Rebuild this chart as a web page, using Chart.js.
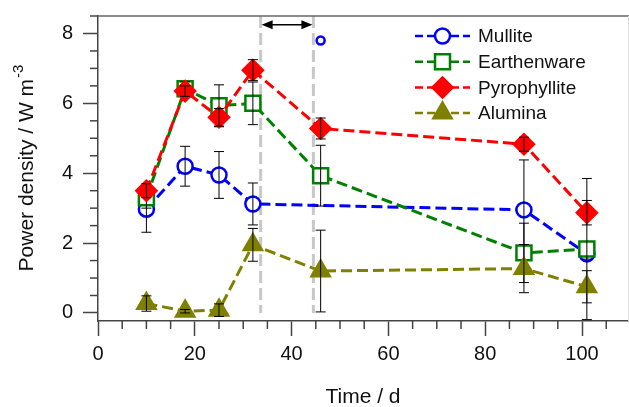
<!DOCTYPE html>
<html>
<head>
<meta charset="utf-8">
<script src="https://cdn.jsdelivr.net/npm/chart.js@4.4.1/dist/chart.umd.min.js"></script>
<style>
    html, body { margin: 0; padding: 0; background: #fff; }
</style>
</head>
<body>
<canvas id="powerChart" width="629" height="407"></canvas>
<script>
// Data
const days = [10, 18, 25, 32, 46, 88, 101];
const mulliteDays = [10, 18, 25, 32, 88, 101];

const mullite = [2.97, 4.2, 3.95, 3.12, 2.95, 1.69];
const mulliteErr = [0.66, 0.57, 0.67, 0.6, 1.43, 0.15];
const earthenware = [3.3, 6.42, 5.93, 6.0, 3.93, 1.72, 1.83];
const earthenwareErr = [0.3, 0.2, 0.6, 0.61, 0.87, 0.85, 2.02];
const pyrophyllite = [3.5, 6.35, 5.6, 6.95, 5.28, 4.83, 2.87];
const pyrophylliteErr = [0.2, 0.15, 0.25, 0.3, 0.3, 0.2, 0.35];
const alumina = [0.27, 0.05, 0.08, 1.95, 1.2, 1.27, 0.75];
const aluminaErr = [0.22, 0.05, 0.18, 0.47, 1.17, 0.69, 0.46];

// lone Mullite point above the others
const outlierDays = [46];
const outlierValues = [7.8];

// dashed markers and arrow between them
const markerDays = [33.6, 44.5];
const arrowLevel = 8.25;

const xTicks = [0, 5, 10, 15, 20, 25, 30, 35, 40, 45, 50, 55, 60, 65, 70, 75, 80, 85, 90, 95, 100, 105];
const yTicks = [0, 0.5, 1, 1.5, 2, 2.5, 3, 3.5, 4, 4.5, 5, 5.5, 6, 6.5, 7, 7.5, 8, 8.5];

const FONT = "'Liberation Sans', Arial, sans-serif";
const AXIS_COLOR = '#444';

function toPoints(xs, ys) {
    return xs.map((x, i) => ({ x: x, y: ys[i] }));
}

function series(label, xs, ys, errs, color, style, radius, fill, order) {
    return {
        label: label,
        data: toPoints(xs, ys),
        errors: errs,
        showLine: true,
        borderColor: color,
        borderWidth: 3,
        borderDash: [11, 5],
        pointStyle: style,
        pointRadius: radius,
        pointHoverRadius: radius,
        pointBorderColor: color,
        pointBackgroundColor: fill ? color : '#fff',
        pointBorderWidth: 2.5,
        order: order
    };
}

const datasets = [
    series('Mullite', mulliteDays, mullite, mulliteErr, '#0000ff', 'circle', 7.5, false, 5),
    series('Earthenware', days, earthenware, earthenwareErr, '#008000', 'rect', 10.6, false, 4),
    series('Pyrophyllite', days, pyrophyllite, pyrophylliteErr, '#ff0000', 'rectRot', 10, true, 3),
    series('Alumina', days, alumina, aluminaErr, '#808000', 'triangle', 10.5, true, 2),
    {
        label: 'outlier',
        data: toPoints(outlierDays, outlierValues),
        showLine: false,
        pointStyle: 'circle',
        pointRadius: 4,
        pointBorderColor: '#0000ff',
        pointBackgroundColor: '#fff',
        pointBorderWidth: 2.5,
        order: 1
    }
];

// Error bars, drawn right after each series
const errorBars = {
    id: 'errorBars',
    afterDatasetDraw(chart, args) {
        const ds = chart.data.datasets[args.index];
        if (!ds.errors) return;
        const y = chart.scales.y;
        const ctx = chart.ctx;
        ctx.save();
        ctx.strokeStyle = '#000';
        ctx.lineWidth = 1;
        args.meta.data.forEach((pt, i) => {
            const v = ds.data[i].y;
            const e = ds.errors[i];
            const top = y.getPixelForValue(v + e);
            const bot = y.getPixelForValue(v - e);
            ctx.beginPath();
            ctx.moveTo(pt.x, top);
            ctx.lineTo(pt.x, bot);
            ctx.moveTo(pt.x - 5, top);
            ctx.lineTo(pt.x + 5, top);
            ctx.moveTo(pt.x - 5, bot);
            ctx.lineTo(pt.x + 5, bot);
            ctx.stroke();
        });
        ctx.restore();
    }
};

// Gray dashed verticals, arrow, frame, minor ticks, legend, y title
const decorations = {
    id: 'decorations',
    beforeDatasetsDraw(chart) {
        const ctx = chart.ctx;
        const area = chart.chartArea;
        const x = chart.scales.x;
        const y = chart.scales.y;
        ctx.save();
        ctx.strokeStyle = '#c8c8c8';
        ctx.lineWidth = 3;
        ctx.setLineDash([12, 5]);
        markerDays.forEach(d => {
            const px = x.getPixelForValue(d);
            ctx.beginPath();
            ctx.moveTo(px, area.top);
            ctx.lineTo(px, y.getPixelForValue(0));
            ctx.stroke();
        });
        ctx.setLineDash([]);

        // double-headed arrow
        const x1 = x.getPixelForValue(markerDays[0]) + 1;
        const x2 = x.getPixelForValue(markerDays[1]) - 1;
        const ay = y.getPixelForValue(arrowLevel);
        ctx.strokeStyle = '#000';
        ctx.fillStyle = '#000';
        ctx.lineWidth = 1.5;
        ctx.beginPath();
        ctx.moveTo(x1 + 6, ay);
        ctx.lineTo(x2 - 6, ay);
        ctx.stroke();
        ctx.beginPath();
        ctx.moveTo(x1, ay);
        ctx.lineTo(x1 + 11, ay - 4.5);
        ctx.lineTo(x1 + 11, ay + 4.5);
        ctx.closePath();
        ctx.moveTo(x2, ay);
        ctx.lineTo(x2 - 11, ay - 4.5);
        ctx.lineTo(x2 - 11, ay + 4.5);
        ctx.closePath();
        ctx.fill();
        ctx.restore();
    },
    afterDraw(chart) {
        const ctx = chart.ctx;
        const area = chart.chartArea;
        ctx.save();

        // frame top and right
        ctx.strokeStyle = '#666';
        ctx.lineWidth = 1.5;
        ctx.beginPath();
        ctx.moveTo(area.left, area.top);
        ctx.lineTo(area.right + 1, area.top);
        ctx.stroke();
        ctx.strokeStyle = '#ddd';
        ctx.lineWidth = 1;
        ctx.beginPath();
        ctx.moveTo(area.right + 0.5, area.top);
        ctx.lineTo(area.right + 0.5, area.bottom);
        ctx.stroke();

        // minor ticks
        ctx.strokeStyle = AXIS_COLOR;
        ctx.lineWidth = 1.5;
        chart.scales.x.ticks.forEach(t => {
            if (t.value % 20 === 0) return;
            const px = chart.scales.x.getPixelForValue(t.value);
            ctx.beginPath();
            ctx.moveTo(px, area.bottom);
            ctx.lineTo(px, area.bottom + 8);
            ctx.stroke();
        });
        chart.scales.y.ticks.forEach(t => {
            if (t.value % 2 === 0) return;
            const py = chart.scales.y.getPixelForValue(t.value);
            ctx.beginPath();
            ctx.moveTo(area.left, py);
            ctx.lineTo(area.left - 8, py);
            ctx.stroke();
        });

        // legend
        const lx = 415, ly = 36, rowH = 25.7;
        chart.data.datasets.slice(0, 4).forEach((ds, i) => {
            const cy = ly + i * rowH;
            ctx.strokeStyle = ds.borderColor;
            ctx.lineWidth = 2.5;
            ctx.setLineDash([8, 4]);
            ctx.beginPath();
            ctx.moveTo(lx, cy);
            ctx.lineTo(lx + 55, cy);
            ctx.stroke();
            ctx.setLineDash([]);
            ctx.fillStyle = ds.pointBackgroundColor;
            ctx.strokeStyle = ds.pointBorderColor;
            ctx.lineWidth = ds.pointBorderWidth;
            Chart.helpers.drawPoint(ctx, {
                pointStyle: ds.pointStyle,
                radius: ds.pointRadius,
                rotation: 0,
                borderWidth: ds.pointBorderWidth
            }, lx + 27.5, cy);
            ctx.fillStyle = '#111';
            ctx.font = '19px ' + FONT;
            ctx.textBaseline = 'middle';
            ctx.textAlign = 'left';
            ctx.fillText(ds.label, lx + 63, cy + 1);
        });

        // y axis title with superscript
        const main = 'Power density / W m';
        const sup = '-3';
        ctx.fillStyle = '#111';
        ctx.font = '21px ' + FONT;
        const w1 = ctx.measureText(main).width;
        ctx.font = '15px ' + FONT;
        const w2 = ctx.measureText(sup).width;
        ctx.translate(27, (area.top + area.bottom) / 2);
        ctx.rotate(-Math.PI / 2);
        ctx.textBaseline = 'middle';
        ctx.textAlign = 'left';
        const start = -(w1 + w2) / 2;
        ctx.font = '21px ' + FONT;
        ctx.fillText(main, start, 0);
        ctx.font = '15px ' + FONT;
        ctx.fillText(sup, start + w1 + 1, -8);
        ctx.restore();
    }
};

function noScalePadding(s) {
    s.paddingTop = 0;
    s.paddingBottom = 0;
    s.paddingLeft = 0;
    s.paddingRight = 0;
}

new Chart(document.getElementById('powerChart').getContext('2d'), {
    type: 'scatter',
    data: { datasets: datasets },
    options: {
        responsive: false,
        animation: false,
        devicePixelRatio: 1,
        layout: {
            autoPadding: false,
            padding: { top: 16, right: 1, left: 0, bottom: 0 }
        },
        plugins: {
            legend: { display: false },
            tooltip: { enabled: false }
        },
        scales: {
            x: {
                type: 'linear',
                min: 0,
                max: 109.5,
                afterBuildTicks: s => { s.ticks = xTicks.map(v => ({ value: v })); },
                afterFit: s => { s.height = 86; noScalePadding(s); },
                grid: {
                    drawOnChartArea: false,
                    tickLength: 15,
                    tickWidth: 1.5,
                    tickColor: c => (c.tick && c.tick.value % 20 === 0) ? AXIS_COLOR : 'rgba(0,0,0,0)'
                },
                border: { color: AXIS_COLOR, width: 1.5 },
                ticks: {
                    autoSkip: false,
                    maxRotation: 0,
                    padding: 6,
                    color: '#111',
                    font: { family: FONT, size: 20 },
                    callback: v => v % 20 === 0 ? v : ''
                },
                title: {
                    display: true,
                    text: 'Time / d',
                    color: '#111',
                    font: { family: FONT, size: 21 },
                    padding: { top: 0, bottom: -3 }
                }
            },
            y: {
                type: 'linear',
                min: -0.23,
                max: 8.5,
                afterBuildTicks: s => { s.ticks = yTicks.map(v => ({ value: v })); },
                afterFit: s => { s.width = 98; noScalePadding(s); },
                grid: {
                    drawOnChartArea: false,
                    tickLength: 15,
                    tickWidth: 1.5,
                    tickColor: c => (c.tick && c.tick.value % 2 === 0) ? AXIS_COLOR : 'rgba(0,0,0,0)'
                },
                border: { color: AXIS_COLOR, width: 1.5 },
                ticks: {
                    autoSkip: false,
                    padding: 10,
                    color: '#111',
                    font: { family: FONT, size: 20 },
                    callback: v => v % 2 === 0 ? v : ''
                }
            }
        }
    },
    plugins: [errorBars, decorations]
});
</script>
</body>
</html>
